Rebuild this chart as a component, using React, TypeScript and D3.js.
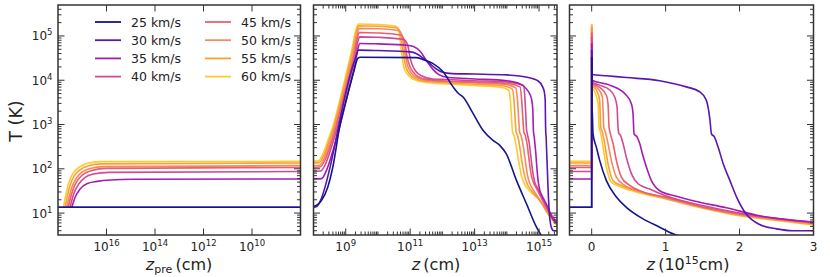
import * as d3 from 'd3'

type Pt = [number, number]

const speedLabels = ['25 km/s', '30 km/s', '35 km/s', '40 km/s', '45 km/s', '50 km/s', '55 km/s', '60 km/s']
const colors = ['#15158c', '#5a16b0', '#a31db0', '#cf4a97', '#e8616c', '#f58a62', '#fb9f37', '#fccc2d']

// pre-shock temperature and peak temperature (K) per speed
const preShockT = [13.5, 13.5, 59, 87, 107, 118, 135, 147]
const peakT = [33100, 47900, 67600, 95500, 120000, 148000, 170000, 186000]

// left panel: z_pre (cm), T (K)
const preCurves: Pt[][] = [
  [[1e18, 13.5], [1e8, 13.5]],
  [[1e18, 13.5], [1e8, 13.5]],
  [[2.7e17, 13.5], [1.95e17, 23], [1.23e17, 35], [6.5e16, 46], [2.45e16, 52], [6.9e15, 56], [7.6e14, 58], [1e8, 59]],
  [[3.2e17, 13.5], [2.2e17, 28], [1.4e17, 45], [7.9e16, 63], [3.5e16, 76], [7.9e15, 83], [1e8, 87]],
  [[3.8e17, 13.5], [2.45e17, 33], [1.6e17, 54], [9.5e16, 74], [4.2e16, 91], [1e16, 102], [1e8, 107]],
  [[4.4e17, 13.5], [2.75e17, 37], [1.8e17, 60], [1.07e17, 83], [4.8e16, 102], [1.26e16, 112], [1e8, 118]],
  [[5.1e17, 13.5], [3.2e17, 42], [2.1e17, 71], [1.23e17, 95], [5.5e16, 117], [1.6e16, 129], [1e8, 135]],
  [[6e17, 13.5], [3.7e17, 46], [2.45e17, 78], [1.45e17, 105], [6.5e16, 132], [1.8e16, 145], [1e8, 147]],
]

// middle panel: z (cm), T (K)
const postCurves: Pt[][] = [
  [[1e8, 14.1], [1.26e8, 15.1], [1.74e8, 19], [2.75e8, 38], [3.98e8, 110], [6.46e8, 871], [1.17e9, 5010], [1.78e9, 15800],
    [2.4e9, 31600], [2.82e9, 33100], [1.55e11, 32400], [2.45e11, 29500], [5.01e11, 24000], [1.05e12, 15500], [2.14e12, 7080],
    [3.16e12, 5010], [4.37e12, 4170], [8.91e12, 1780], [1.82e13, 741], [3.72e13, 437], [6.03e13, 339], [9.55e13, 219],
    [2e14, 54], [4.07e14, 16.2], [8.32e14, 4.8], [1.17e15, 3.1], [1.4e15, 2.4]],
  [[1e8, 13.5], [1.26e8, 14.1], [1.78e8, 22], [2.51e8, 50], [3.55e8, 141], [5.62e8, 708], [8.91e8, 3550], [1.41e9, 14100],
    [2e9, 31600], [2.51e9, 47900], [1e10, 46800], [1e11, 43700], [1.58e11, 39800], [2.51e11, 31600], [3.98e11, 24000],
    [6.31e11, 18200], [1e12, 15100], [2e12, 14100], [1e13, 13800], [1e14, 13200], [4.68e14, 11500], [9.12e14, 9770],
    [1.29e15, 7080], [1.45e15, 5500], [1.55e15, 3550], [1.58e15, 1260], [1.62e15, 617], [1.66e15, 525], [1.7e15, 309],
    [1.78e15, 129], [1.86e15, 54], [1.95e15, 23], [2.09e15, 9.5], [2.29e15, 5.5], [2.51e15, 4.4], [2.82e15, 4], [3.8e15, 4]],
  [[1e8, 59], [1.78e8, 60], [2.51e8, 91], [3.55e8, 191], [5.01e8, 447], [7.94e8, 1580], [1.26e9, 6310], [2e9, 25100],
    [2.4e9, 52500], [2.75e9, 67600], [1e10, 66100], [7.94e10, 61700], [1.26e11, 57500], [2e11, 45700], [3.16e11, 28200],
    [5.01e11, 17800], [7.94e11, 13200], [1.58e12, 11500], [1e13, 10700], [1e14, 9770], [2.82e14, 7940], [5.37e14, 4570],
    [6.17e14, 2950], [6.46e14, 1780], [6.68e14, 708], [7.08e14, 525], [7.41e14, 372], [7.94e14, 219], [8.51e14, 110],
    [9.33e14, 54], [1.05e15, 33], [1.26e15, 24], [1.48e15, 19], [1.91e15, 13.2], [2.34e15, 8.9], [2.75e15, 7.1], [3.8e15, 6]],
  [[1e8, 87], [1.66e8, 89], [2.4e8, 132], [3.39e8, 269], [4.79e8, 603], [7.59e8, 2140], [1.2e9, 7940], [1.91e9, 30200],
    [2.34e9, 70800], [2.69e9, 95500], [1e10, 93300], [6.31e10, 83200], [8.32e10, 63100], [1e11, 31600], [1.2e11, 20900],
    [1.51e11, 15800], [2.24e11, 12600], [5.01e11, 10700], [1e12, 10500], [1e13, 9770], [1e14, 9120], [3.31e14, 7590],
    [3.63e14, 3980], [3.89e14, 1580], [4.07e14, 794], [4.37e14, 589], [4.9e14, 398], [5.5e14, 200], [6.31e14, 89],
    [7.24e14, 52], [8.91e14, 37], [1.17e15, 24], [2e15, 11.2], [3.8e15, 6]],
  [[1e8, 107], [1.58e8, 110], [2.29e8, 158], [3.24e8, 316], [4.57e8, 692], [7.24e8, 2510], [1.15e9, 9550], [1.82e9, 36300],
    [2.29e9, 89100], [2.63e9, 120000], [1e10, 117000], [5.01e10, 105000], [6.61e10, 79400], [7.94e10, 35500], [9.55e10, 21400],
    [1.2e11, 15800], [1.78e11, 12000], [3.98e11, 10200], [1e12, 9770], [1e13, 9120], [1e14, 8510], [2.57e14, 7080],
    [2.88e14, 3550], [3.16e14, 1260], [3.39e14, 661], [3.72e14, 575], [4.27e14, 355], [4.9e14, 158], [5.75e14, 71],
    [6.61e14, 50], [8.32e14, 36], [1.17e15, 22], [2e15, 10.5], [3.8e15, 5.8]],
  [[1e8, 117], [1.55e8, 120], [2.19e8, 178], [3.09e8, 355], [4.37e8, 759], [6.92e8, 2690], [1.1e9, 10500], [1.74e9, 41700],
    [2.24e9, 107000], [2.57e9, 148000], [1e10, 145000], [4.47e10, 132000], [5.62e10, 100000], [6.92e10, 39800], [8.32e10, 21400],
    [1.05e11, 15100], [1.58e11, 11500], [3.55e11, 9770], [1e12, 9330], [1e13, 8710], [1e14, 7940], [1.91e14, 6610],
    [2.14e14, 3550], [2.34e14, 1260], [2.51e14, 661], [2.75e14, 575], [3.16e14, 355], [3.72e14, 158], [4.37e14, 71],
    [5.01e14, 50], [6.31e14, 35], [1e15, 21], [2e15, 9.8], [3.8e15, 5.5]],
  [[1e8, 135], [1.48e8, 138], [2.09e8, 200], [2.95e8, 398], [4.17e8, 832], [6.61e8, 2950], [1.05e9, 11500], [1.66e9, 47900],
    [2.19e9, 126000], [2.51e9, 170000], [1e10, 166000], [3.98e10, 151000], [5.01e10, 112000], [6.03e10, 44700], [7.24e10, 20900],
    [9.12e10, 14500], [1.41e11, 11000], [3.16e11, 9330], [1e12, 8910], [1e13, 8130], [7.94e13, 7410], [1.48e14, 6310],
    [1.66e14, 3550], [1.82e14, 1260], [1.95e14, 661], [2.14e14, 575], [2.45e14, 355], [2.88e14, 158], [3.55e14, 71],
    [4.17e14, 48], [5.62e14, 33], [1e15, 20.4], [2e15, 9.3], [3.8e15, 5.2]],
  [[1e8, 148], [1.41e8, 151], [2e8, 224], [2.82e8, 447], [3.98e8, 891], [6.31e8, 3160], [1e9, 12600], [1.58e9, 52500],
    [2.09e9, 141000], [2.51e9, 186000], [1e10, 182000], [3.55e10, 166000], [4.47e10, 126000], [5.25e10, 50100], [6.31e10, 20000],
    [7.94e10, 14100], [1.26e11, 10500], [3.16e11, 8910], [1e12, 8320], [1e13, 7590], [6.31e13, 6920], [1.12e14, 6030],
    [1.29e14, 3550], [1.41e14, 1260], [1.51e14, 661], [1.66e14, 575], [1.91e14, 355], [2.29e14, 158], [2.82e14, 71],
    [3.55e14, 45], [5.01e14, 32], [1e15, 20], [2e15, 8.9], [3.8e15, 5]],
]

// right panel: z (1e15 cm), T (K), behind the shock
const zoomCurves: Pt[][] = [
  [[0.003, 3160], [0.01, 1580], [0.018, 617], [0.063, 309], [0.108, 155], [0.199, 54], [0.334, 23], [0.469, 13.5],
    [0.695, 7.4], [0.92, 4.8], [1.1, 3.4], [1.3, 2.7]],
  [[0.003, 13500], [0.2, 12600], [0.469, 11500], [0.92, 9770], [1.28, 7080], [1.46, 5500], [1.55, 3550], [1.6, 1260],
    [1.62, 617], [1.66, 525], [1.71, 309], [1.78, 129], [1.87, 54], [1.96, 23], [2.09, 9.5], [2.27, 5.5], [2.5, 4.4],
    [2.72, 4], [3.0, 4]],
  [[0.003, 10000], [0.244, 7760], [0.469, 4570], [0.537, 2950], [0.559, 1780], [0.573, 617], [0.613, 525], [0.65, 372],
    [0.686, 219], [0.74, 110], [0.808, 54], [0.92, 32], [1.146, 24], [1.37, 19], [1.82, 13.2], [2.27, 8.7], [2.72, 6.9], [3.0, 6.3]],
  [[0.003, 9120], [0.108, 7760], [0.244, 6030], [0.311, 4170], [0.343, 2510], [0.356, 871], [0.37, 617], [0.388, 575],
    [0.424, 372], [0.469, 182], [0.537, 78], [0.627, 46], [0.785, 35], [1.0, 24.5], [1.5, 14.8], [2.0, 10], [2.5, 7.6], [3.0, 6.2]],
  [[0.003, 8710], [0.108, 6920], [0.199, 4570], [0.221, 2950], [0.235, 871], [0.253, 617], [0.289, 372], [0.334, 155],
    [0.402, 65], [0.514, 42], [0.695, 30], [1.0, 22.9], [1.5, 13.8], [2.0, 9.6], [2.5, 7.4], [3.0, 6]],
  [[0.003, 8130], [0.086, 6460], [0.145, 4170], [0.154, 2090], [0.163, 871], [0.185, 676], [0.221, 372], [0.266, 155],
    [0.334, 65], [0.447, 42], [0.65, 31], [1.0, 21.9], [1.5, 13.5], [2.0, 9.3], [2.5, 7.2], [3.0, 5.8]],
  [[0.003, 7590], [0.063, 6030], [0.108, 3550], [0.115, 1780], [0.122, 871], [0.145, 676], [0.176, 372], [0.221, 129],
    [0.289, 54], [0.402, 42], [0.6, 32], [1.0, 21.4], [1.5, 13.2], [2.0, 9], [2.5, 7], [3.0, 5.6]],
  [[0.003, 7080], [0.041, 5500], [0.086, 2950], [0.1, 871], [0.118, 676], [0.154, 309], [0.199, 110], [0.266, 50],
    [0.379, 40], [0.6, 30], [1.0, 20.9], [1.5, 12.9], [2.0, 8.7], [2.5, 6.8], [3.0, 5.4]],
]

const yMajor = [1e1, 1e2, 1e3, 1e4, 1e5]
const yExp = ['1', '2', '3', '4', '5']
const leftMajor = [1e16, 1e14, 1e12, 1e10]
const leftExp = ['16', '14', '12', '10']
const midMajor = [1e9, 1e11, 1e13, 1e15]
const midExp = ['9', '11', '13', '15']
const rightMajor = [0, 1, 2, 3]

const FONT = 'DejaVu Sans, sans-serif'
const AX = '#333333'
const TOP = 5
const BOTTOM = 235

const y = d3.scaleLog().domain([3.2, 5e5]).range([BOTTOM, TOP])
const xLeft = d3.scaleLog().domain([1e18, 1e8]).range([58, 300.5])
const xMid = d3.scaleLog().domain([1e8, 3.6e15]).range([313.5, 557])
const xRight = d3.scaleLinear().domain([-0.3, 3]).range([569.5, 813.5])

const logMinors = (lo: number, hi: number) => {
  const out: number[] = []
  for (let k = Math.floor(Math.log10(lo)); k <= Math.ceil(Math.log10(hi)); k++) {
    for (let m = 2; m <= 9; m++) {
      const v = m * Math.pow(10, k)
      if (v > lo && v < hi) out.push(v)
    }
  }
  return out
}
const yMinor = logMinors(3.2, 5e5)
const midMinor = [...logMinors(1e8, 3.6e15), 1e10, 1e12, 1e14]

const Frame = ({ x0, x1, xs, xMajor, xMinor }: { x0: number, x1: number, xs: (v: number) => number, xMajor: number[], xMinor: number[] }) => {
  const ML = 6.5, mL = 3.5
  const ticks: JSX.Element[] = []
  xMajor.forEach((v, i) => {
    const px = xs(v)
    ticks.push(<line key={`xb${i}`} x1={px} x2={px} y1={BOTTOM} y2={BOTTOM - ML} />)
    ticks.push(<line key={`xt${i}`} x1={px} x2={px} y1={TOP} y2={TOP + ML} />)
  })
  xMinor.forEach((v, i) => {
    const px = xs(v)
    ticks.push(<line key={`xbm${i}`} x1={px} x2={px} y1={BOTTOM} y2={BOTTOM - mL} />)
    ticks.push(<line key={`xtm${i}`} x1={px} x2={px} y1={TOP} y2={TOP + mL} />)
  })
  yMajor.forEach((v, i) => {
    const py = y(v)
    ticks.push(<line key={`yl${i}`} x1={x0} x2={x0 + ML} y1={py} y2={py} />)
    ticks.push(<line key={`yr${i}`} x1={x1} x2={x1 - ML} y1={py} y2={py} />)
  })
  yMinor.forEach((v, i) => {
    const py = y(v)
    ticks.push(<line key={`ylm${i}`} x1={x0} x2={x0 + mL} y1={py} y2={py} />)
    ticks.push(<line key={`yrm${i}`} x1={x1} x2={x1 - mL} y1={py} y2={py} />)
  })
  return (
    <g>
      <g stroke={AX} strokeWidth={1}>{ticks}</g>
      <rect x={x0} y={TOP} width={x1 - x0} height={BOTTOM - TOP} fill="none" stroke={AX} strokeWidth={1.5} />
    </g>
  )
}

const App = () => {
  const order = d3.range(speedLabels.length).reverse()
  const lineL = d3.line<Pt>().x(d => xLeft(d[0])).y(d => y(d[1])).curve(d3.curveMonotoneX)
  const lineM = d3.line<Pt>().x(d => xMid(d[0])).y(d => y(d[1])).curve(d3.curveMonotoneX)
  const lineR = d3.line<Pt>().x(d => xRight(d[0])).y(d => y(d[1])).curve(d3.curveMonotoneX)
  const stepR = d3.line<Pt>().x(d => xRight(d[0])).y(d => y(d[1]))

  return (
    <svg width={830} height={277} style={{ position: 'absolute', left: 0, top: 0, background: '#fff' }} fontFamily={FONT}>
      <defs>
        <clipPath id="cL"><rect x={58} y={TOP} width={242.5} height={BOTTOM - TOP} /></clipPath>
        <clipPath id="cM"><rect x={313.5} y={TOP} width={243.5} height={BOTTOM - TOP} /></clipPath>
        <clipPath id="cR"><rect x={569.5} y={TOP} width={244} height={BOTTOM - TOP} /></clipPath>
      </defs>

      <g clipPath="url(#cL)" fill="none" strokeWidth={1.6}>
        {order.map(i => <path key={i} d={lineL(preCurves[i]) ?? ''} stroke={colors[i]} />)}
      </g>
      <g clipPath="url(#cM)" fill="none" strokeWidth={1.6}>
        {order.map(i => <path key={i} d={lineM(postCurves[i]) ?? ''} stroke={colors[i]} />)}
      </g>
      <g clipPath="url(#cR)" fill="none" strokeWidth={1.6}>
        {order.map(i => (
          <g key={i} stroke={colors[i]}>
            <path d={stepR([[-0.3, preShockT[i]], [0, preShockT[i]], [0, peakT[i]]]) ?? ''} />
            <path d={lineR([[0.0005, peakT[i]], ...zoomCurves[i]]) ?? ''} />
          </g>
        ))}
      </g>

      <Frame x0={58} x1={300.5} xs={xLeft} xMajor={leftMajor} xMinor={[]} />
      <Frame x0={313.5} x1={557} xs={xMid} xMajor={midMajor} xMinor={midMinor} />
      <Frame x0={569.5} x1={813.5} xs={xRight} xMajor={rightMajor} xMinor={[]} />

      {/* y tick labels */}
      <g fontSize={12} fill="#222" textAnchor="end">
        {yMajor.map((v, i) => (
          <text key={i} x={52.5} y={y(v) + 4.5}>10<tspan dy={-5} fontSize={8.5}>{yExp[i]}</tspan></text>
        ))}
      </g>
      {/* x tick labels */}
      <g fontSize={12} fill="#222" textAnchor="middle">
        {leftMajor.map((v, i) => (
          <text key={`l${i}`} x={xLeft(v)} y={251}>10<tspan dy={-5} fontSize={8.5}>{leftExp[i]}</tspan></text>
        ))}
        {midMajor.map((v, i) => (
          <text key={`m${i}`} x={xMid(v)} y={251}>10<tspan dy={-5} fontSize={8.5}>{midExp[i]}</tspan></text>
        ))}
        {rightMajor.map((v, i) => (
          <text key={`r${i}`} x={xRight(v)} y={251}>{v}</text>
        ))}
      </g>

      {/* axis titles */}
      <g fontSize={16} fill="#222" textAnchor="middle">
        <text x={179} y={269.5}>
          <tspan fontStyle="italic">z</tspan><tspan dy={3.5} fontSize={11}>pre</tspan><tspan dy={-3.5}>{'\u2009(cm)'}</tspan>
        </text>
        <text x={436} y={269.5}>
          <tspan fontStyle="italic">z</tspan>{'\u2009(cm)'}
        </text>
        <text x={688} y={269.5}>
          <tspan fontStyle="italic">z</tspan>{'\u2009(10'}<tspan dy={-6} fontSize={11}>15</tspan><tspan dy={6}>cm)</tspan>
        </text>
        <text transform="translate(21.5,121) rotate(-90)" fontSize={17.5}>T (K)</text>
      </g>

      {/* legend */}
      <g fontSize={12.5} fill="#222">
        {speedLabels.map((lab, i) => {
          const col = Math.floor(i / 4)
          const row = i % 4
          const lx = col === 0 ? 95 : 205
          const ly = 22 + row * 18.2
          return (
            <g key={lab}>
              <line x1={lx} x2={lx + 26} y1={ly} y2={ly} stroke={colors[i]} strokeWidth={1.8} />
              <text x={lx + 36} y={ly + 4.5}>{lab}</text>
            </g>
          )
        })}
      </g>
    </svg>
  )
}

export default App
